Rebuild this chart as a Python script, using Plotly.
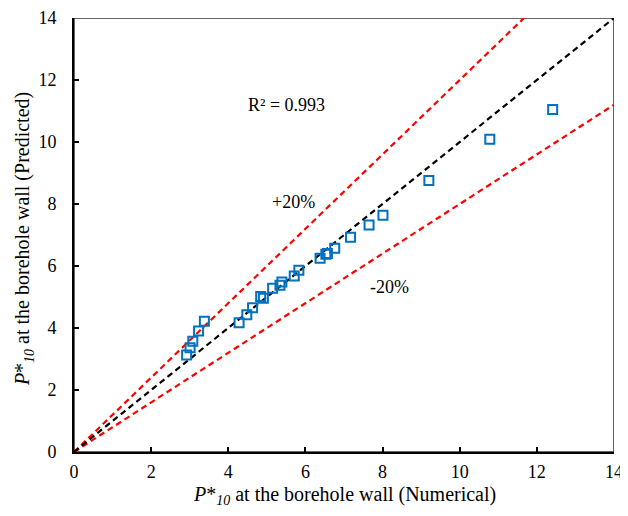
import plotly.graph_objects as go

numerical = [2.92, 3.01, 3.08, 3.23, 3.38, 4.28, 4.48, 4.63, 4.84, 4.91, 5.15, 5.34, 5.39,
             5.71, 5.83, 6.38, 6.53, 6.57, 6.76, 7.17, 7.65, 8.01, 9.20, 10.78, 12.41]
predicted = [3.13, 3.36, 3.57, 3.90, 4.22, 4.17, 4.43, 4.65, 5.02, 4.96, 5.28, 5.38, 5.48,
             5.68, 5.86, 6.25, 6.38, 6.40, 6.57, 6.93, 7.32, 7.64, 8.76, 10.09, 11.05]

line_x = [0, 14]
equal_y = [0, 14]
plus20_x = [0, 11.667]
plus20_y = [0, 14]
minus20_y = [0, 11.2]

tick_vals = [0, 2, 4, 6, 8, 10, 12, 14]

x_title = "<i>P</i>*<sub><i>10</i></sub> at the borehole wall (Numerical)"
y_title = "<i>P</i>*<sub><i>10</i></sub> at the borehole wall (Predicted)"

FONT = "Liberation Serif"

fig = go.Figure()
fig.add_trace(go.Scatter(x=plus20_x, y=plus20_y, mode="lines",
                         line=dict(color="#FF0000", width=2.2, dash="6px,4px"), showlegend=False))
fig.add_trace(go.Scatter(x=line_x, y=minus20_y, mode="lines",
                         line=dict(color="#FF0000", width=2.2, dash="6px,4px"), showlegend=False))
fig.add_trace(go.Scatter(x=line_x, y=equal_y, mode="lines",
                         line=dict(color="#000000", width=2.2, dash="6px,4px"), showlegend=False))
fig.add_trace(go.Scatter(x=numerical, y=predicted, mode="markers",
                         marker=dict(symbol="square-open", size=9, color="#0070C0",
                                     line=dict(width=2, color="#0070C0")),
                         showlegend=False))

fig.add_annotation(x=5.5, y=11.19, text="R² = 0.993", showarrow=False,
                   font=dict(family=FONT, size=18, color="black"))
fig.add_annotation(x=5.69, y=8.06, text="+20%", showarrow=False,
                   font=dict(family=FONT, size=18, color="black"))
fig.add_annotation(x=8.18, y=5.32, text="-20%", showarrow=False,
                   font=dict(family=FONT, size=18, color="black"))

# axis titles placed as annotations
fig.add_annotation(xref="paper", yref="paper", x=0.5, y=-0.1, text=x_title,
                   showarrow=False, xanchor="center", yanchor="middle",
                   font=dict(family=FONT, size=20, color="black"))
fig.add_annotation(xref="paper", yref="paper", x=-0.093, y=0.49, text=y_title,
                   showarrow=False, xanchor="center", yanchor="middle", textangle=-90,
                   font=dict(family=FONT, size=20, color="black"))

# top/right frame
fig.add_shape(type="rect", xref="x", yref="y", x0=0, y0=0, x1=14, y1=14,
              line=dict(color="#333333", width=1.5), layer="below")

axis_common = dict(range=[0, 14], tickvals=tick_vals, ticks="inside", ticklen=5,
                   tickwidth=1.5, tickcolor="black", showgrid=False, zeroline=False,
                   showline=True, linecolor="black", linewidth=2, automargin=False,
                   tickfont=dict(family=FONT, size=18, color="black"))

fig.update_xaxes(**axis_common, ticklabelstandoff=2)
fig.update_yaxes(**axis_common, ticklabelstandoff=12)

# the page body has an 8px margin; compensate so the plot lands where the reference has it
fig.update_layout(width=620, height=508, margin=dict(l=66, r=14, t=10, b=64),
                  plot_bgcolor="white", paper_bgcolor="white",
                  font=dict(family=FONT, size=18, color="black"))

fig.write_html("out.html")
